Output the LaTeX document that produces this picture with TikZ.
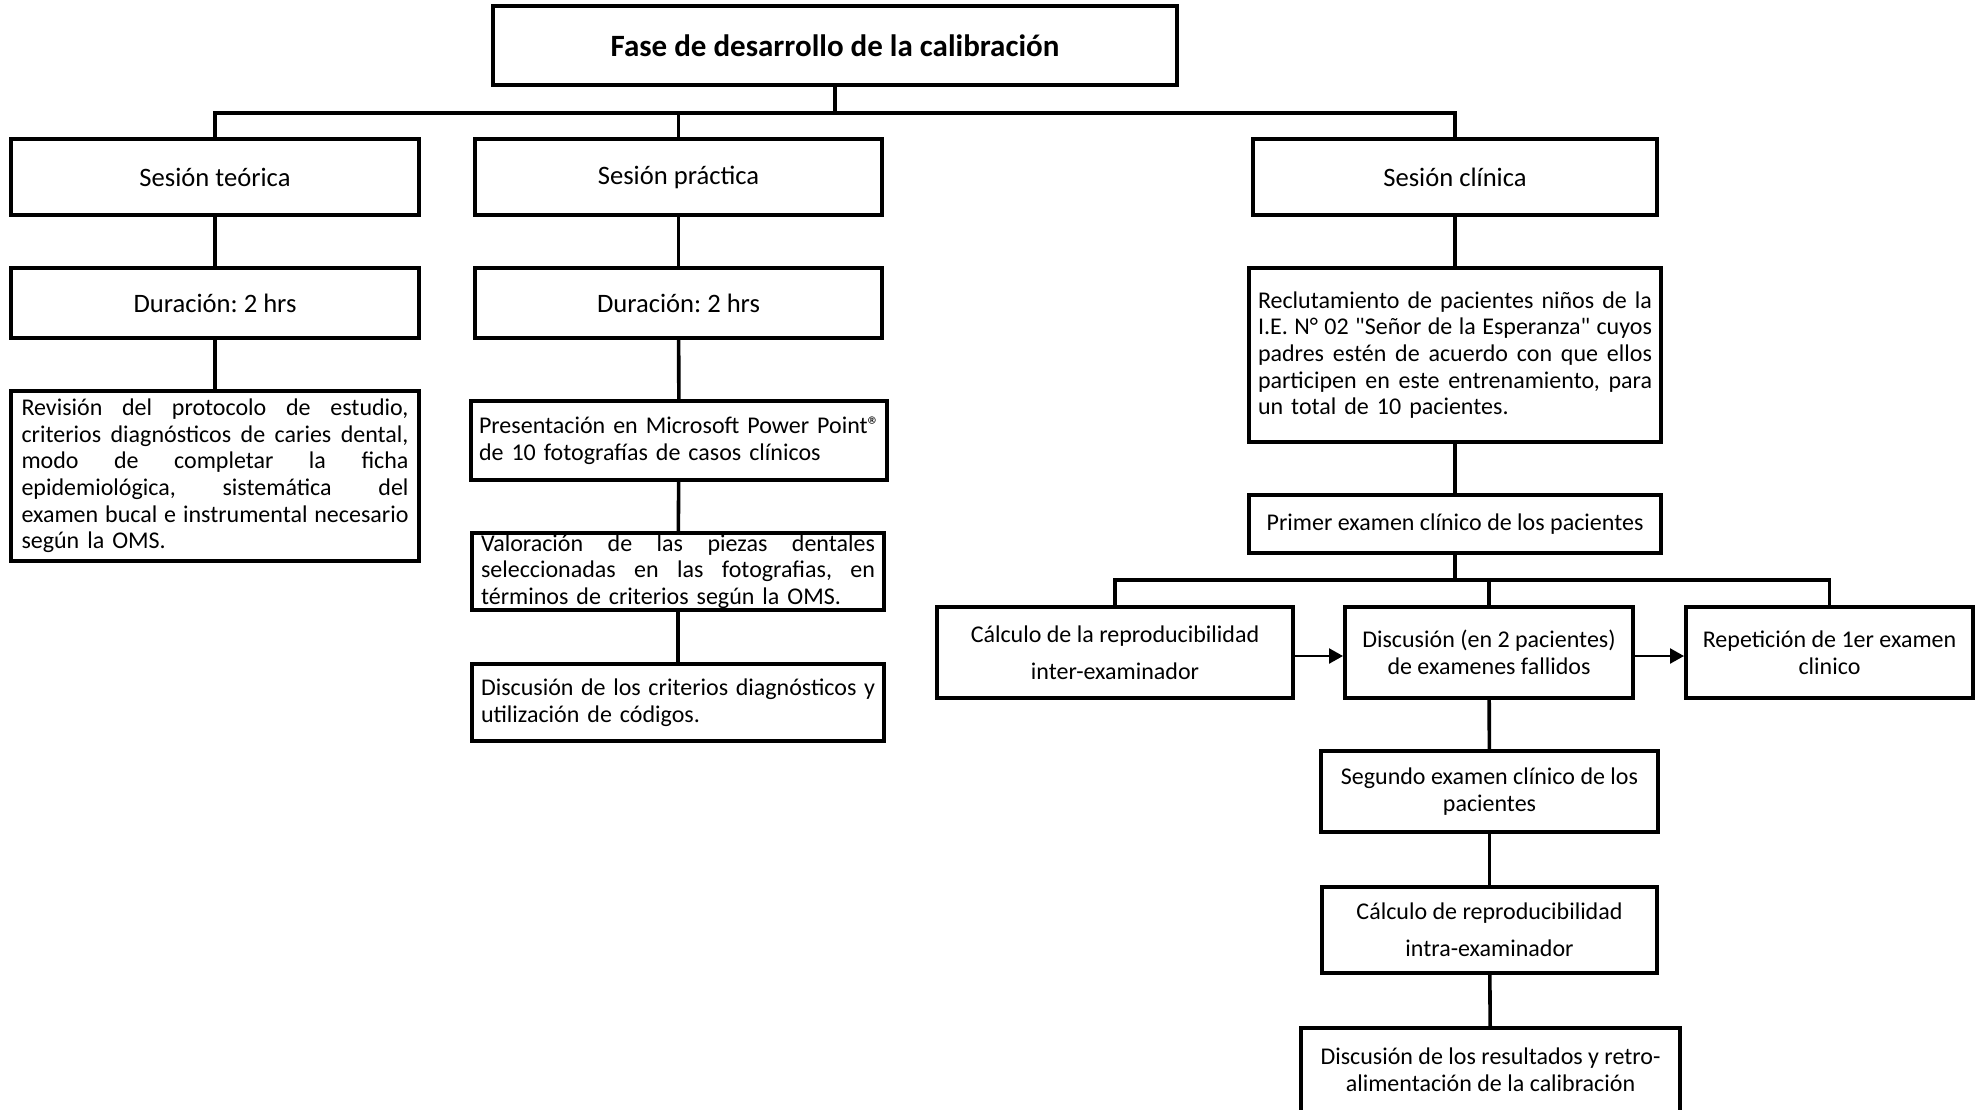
\documentclass[tikz,border=0pt]{standalone}
\usepackage{fontspec}
\setmainfont{Carlito}
\usetikzlibrary{arrows.meta}
\frenchspacing
\newcommand{\jl}[2]{{\spaceskip=0.226em plus 1fil minus 0.1em\relax\xspaceskip=\spaceskip\makebox[#1][s]{#2}}}
\newcommand{\sq}{{\addfontfeature{Ligatures=TeXOff}"}}
\begin{document}
\begin{tikzpicture}[x=0.5pt,y=-0.5pt,
 bx/.style={draw=black, line width=2pt, inner xsep=0pt, inner ysep=0pt, align=center, font=\fontsize{12}{13.3}\selectfont},
 big/.style={font=\fontsize{13.3}{15}\selectfont},
 cn/.style={line width=1.8pt},
 ar/.style={line width=1.2pt, -{Triangle[length=7pt,width=7.5pt]}}]
\fill[white] (0,0) rectangle (1986,1109);
\useasboundingbox (0,0) rectangle (1986,1109);
\clip (0,0) rectangle (1986,1109);

% top
\node[bx, minimum width=342pt, minimum height=39.5pt, font=\fontsize{15.5}{18}\selectfont\bfseries] (title) at (835,45.5) {Fase de desarrollo de la calibración};

\node[bx, big, minimum width=204pt, minimum height=38pt] (st) at (215,177) {Sesión teórica};
\node[bx, big, minimum width=203.5pt, minimum height=38pt] (sp) at (678.5,177) {Sesión práctica};
\node[bx, big, minimum width=202pt, minimum height=38pt] (sc) at (1455,177) {Sesión clínica};

\node[bx, big, minimum width=204pt, minimum height=35pt] (dt) at (215,303) {Duración: 2 hrs};
\node[bx, big, minimum width=203.5pt, minimum height=35pt] (dp) at (678.5,303) {Duración: 2 hrs};

% left column
\node[bx, minimum width=204pt, minimum height=85pt, text width=193.5pt, align=left] (rev) at (215,476) {\jl{193.5pt}{Revisión del protocolo de estudio,}\\
\jl{193.5pt}{criterios diagnósticos de caries dental,}\\
\jl{193.5pt}{modo de completar la ficha}\\
\jl{193.5pt}{epidemiológica, sistemática del}\\
\jl{193.5pt}{examen bucal e instrumental necesario}\\
según la OMS.};

% middle column
\node[bx, minimum width=208pt, minimum height=39.5pt, text width=200pt, align=left] (pres) at (679,440.5) {\mbox{Presentación en Microsoft Power Point®}\\
de 10 fotografías de casos clínicos};
\node[bx, minimum width=206pt, minimum height=38.5pt, text width=197pt, align=left] (val) at (678,571.5) {\jl{197pt}{Valoración de las piezas dentales}\\
\jl{197pt}{seleccionadas en las fotografias, en}\\
términos de criterios según la OMS.};
\node[bx, minimum width=206pt, minimum height=38.5pt, text width=197pt, align=left] (disc) at (678,702.5) {\jl{197pt}{Discusión de los criterios diagnósticos y}\\
utilización de códigos.};

% right column
\node[bx, minimum width=206pt, minimum height=87pt, text width=197pt, align=left] (rec) at (1455,355) {\jl{197pt}{Reclutamiento de pacientes niños de la}\\
\jl{197pt}{I.E. N° 02 \sq Señor de la Esperanza\sq{} cuyos}\\
\jl{197pt}{padres estén de acuerdo con que ellos}\\
\jl{197pt}{participen en este entrenamiento, para}\\
un total de 10 pacientes.};
\node[bx, minimum width=206pt, minimum height=29pt] (prim) at (1455,524) {Primer examen clínico de los pacientes};

\node[bx, minimum width=178pt, minimum height=45.5pt, font=\fontsize{12}{18.5}\selectfont] (inter) at (1115,652.5) {Cálculo de la reproducibilidad\\inter-examinador};
\node[bx, minimum width=144pt, minimum height=45.5pt] (dis2) at (1489,652.5) {Discusión (en 2 pacientes)\\de examenes fallidos};
\node[bx, minimum width=143.5pt, minimum height=45.5pt] (rep) at (1829.5,652.5) {Repetición de 1er examen\\clinico};

\node[bx, minimum width=168.5pt, minimum height=40.5pt] (seg) at (1489.5,791.5) {Segundo examen clínico de los\\pacientes};
\node[bx, minimum width=167.5pt, minimum height=43pt, font=\fontsize{12}{18.5}\selectfont] (intra) at (1489.5,930) {Cálculo de reproducibilidad\\intra-examinador};
\node[bx, minimum width=189.5pt, minimum height=42pt] (res) at (1490.5,1070) {Discusión de los resultados y retro-\\alimentación de la calibración};

% connectors top
\coordinate (b1) at (835,113);
\draw[cn] (title.south) -- (b1);
\draw[cn] (st.north) -- (st.north |- b1) -- (sc.north |- b1) -- (sc.north);
\draw[cn] (sp.north) -- (sp.north |- b1);

\draw[cn] (st) -- (dt);
\draw[cn] (dt) -- (rev);
\draw[cn] (sp) -- (dp);
\draw[cn] (dp) -- (pres);
\draw[cn] (pres) -- (val);
\draw[cn] (val) -- (disc);
\draw[cn] (sc) -- (rec);
\draw[cn] (rec) -- (prim);

% clinic bus
\coordinate (b2) at (1455,580);
\draw[cn] (prim.south) -- (b2);
\draw[cn] (inter.north) -- (inter.north |- b2) -- (rep.north |- b2) -- (rep.north);
\draw[cn] (dis2.north) -- (dis2.north |- b2);

\draw[ar] ([yshift=-1.75pt]inter.east) -- ([yshift=-1.75pt]dis2.west);
\draw[ar] ([yshift=-1.75pt]dis2.east) -- ([yshift=-1.75pt]rep.west);

\draw[cn] (dis2) -- (seg);
\draw[cn] (seg) -- (intra);
\draw[cn] (intra) -- (res);
\end{tikzpicture}
\end{document}
